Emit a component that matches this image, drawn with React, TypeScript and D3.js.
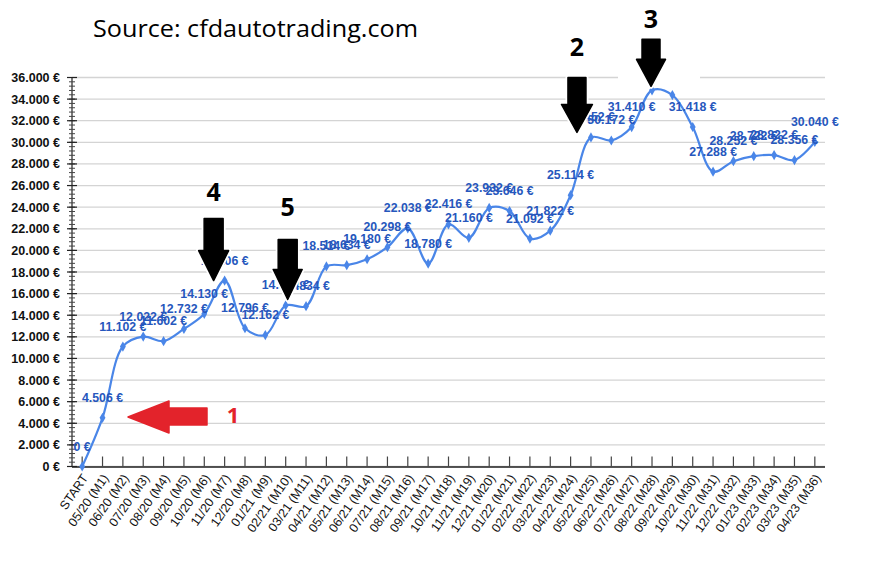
import React from 'react';
import * as d3 from 'd3';

const categories = [
  'START', '05/20 (M1)', '06/20 (M2)', '07/20 (M3)', '08/20 (M4)', '09/20 (M5)', '10/20 (M6)',
  '11/20 (M7)', '12/20 (M8)', '01/21 (M9)', '02/21 (M10)', '03/21 (M11)', '04/21 (M12)',
  '05/21 (M13)', '06/21 (M14)', '07/21 (M15)', '08/21 (M16)', '09/21 (M17)', '10/21 (M18)',
  '11/21 (M19)', '12/21 (M20)', '01/22 (M21)', '02/22 (M22)', '03/22 (M23)', '04/22 (M24)',
  '05/22 (M25)', '06/22 (M26)', '07/22 (M27)', '08/22 (M28)', '09/22 (M29)', '10/22 (M30)',
  '11/22 (M31)', '12/22 (M32)', '01/23 (M33)', '02/23 (M34)', '03/23 (M35)', '04/23 (M36)',
];

const values = [
  0, 4506, 11102, 12022, 11602, 12732, 14130, 17206, 12796, 12162, 14904, 14834, 18514,
  18634, 19180, 20298, 22038, 18780, 22416, 21160, 23932, 23646, 21092, 21822, 25114,
  30452, 30172, 31410, 34812, 34372, 31418, 27288, 28252, 28722, 28822, 28356, 30040,
];

const yTicks = [0, 2000, 4000, 6000, 8000, 10000, 12000, 14000, 16000, 18000, 20000, 22000,
  24000, 26000, 28000, 30000, 32000, 34000, 36000];

const title = 'Source: cfdautotrading.com';

const downArrows = [
  { label: '4', idx: 7 },
  { label: '5', idx: 10 },
  { label: '2', idx: 25 },
  { label: '3', idx: 28 },
];

const W = 870;
const H = 581;

const fmt = (v: number) => d3.format(',')(v).replace(/,/g, '.') + ' €';

export default function App() {
  const x = d3.scalePoint<string>().domain(categories).range([72, 825]).padding(0.5);
  const y = d3.scaleLinear().domain([0, 36000]).range([466.5, 77.5]);
  const px = (i: number) => x(categories[i]) as number;

  const line = d3
    .line<number>()
    .x((_, i) => px(i))
    .y((d) => y(d))
    .curve(d3.curveCatmullRom.alpha(0.5));

  const minorTicks = d3.range(0, 36001, 400);
  const axisFont = '"Liberation Sans", Arial, sans-serif';

  const arrowGeom: Record<string, { tx: number; ty: number; shaft: number; head: number; sw: number; hw: number; ly: number; bg?: [number, number, number, number] }> = {
    '4': { tx: -11, ty: 0, shaft: 32, head: 30, sw: 19, hw: 30, ly: 201 },
    '5': { tx: 2, ty: -6, shaft: 30, head: 30, sw: 19, hw: 29, ly: 216 },
    '2': { tx: -14, ty: -5, shaft: 27, head: 28, sw: 18, hw: 31, ly: 56 },
    '3': { tx: -1, ty: -4, shaft: 20, head: 27, sw: 18, hw: 29, ly: 28, bg: [618, 30, 82, 57] },
  };

  return (
    <svg
      width={W}
      height={H}
      style={{ position: 'absolute', left: 0, top: 0, background: '#fff' }}
      xmlns="http://www.w3.org/2000/svg"
    >
      <rect x={0} y={0} width={W} height={H} fill="#fff" />
      <text
        x={93}
        y={37}
        fontFamily='"Open Sans", sans-serif'
        fontSize={24}
        textLength={325}
        lengthAdjust="spacingAndGlyphs"
        fill="#000"
      >
        {title}
      </text>

      {yTicks.map((t) => (
        <line key={'g' + t} x1={72} x2={825} y1={y(t)} y2={y(t)} stroke="#d4d4d4" strokeWidth={1.3} />
      ))}

      <line x1={72} x2={72} y1={y(36000)} y2={y(0)} stroke="#222" strokeWidth={1.2} />
      {minorTicks.map((t) => (
        <line key={'m' + t} x1={69} x2={75} y1={y(t)} y2={y(t)} stroke="#444" strokeWidth={1} />
      ))}
      {yTicks.map((t) => (
        <line key={'M' + t} x1={67} x2={77} y1={y(t)} y2={y(t)} stroke="#222" strokeWidth={1.2} />
      ))}
      {yTicks.map((t) => (
        <text
          key={'yl' + t}
          x={60}
          y={y(t)}
          dy="0.36em"
          textAnchor="end"
          fontFamily={axisFont}
          fontWeight="bold"
          fontSize={12.5}
          fill="#111"
        >
          {fmt(t)}
        </text>
      ))}

      <line x1={72} x2={825} y1={y(0) + 0.5} y2={y(0) + 0.5} stroke="#222" strokeWidth={1.3} />
      {categories.map((c, i) => (
        <line key={'xt' + i} x1={px(i)} x2={px(i)} y1={y(0)} y2={y(0) - 10} stroke="#444" strokeWidth={1.2} />
      ))}
      {categories.map((c, i) => (
        <text
          key={'xl' + i}
          transform={`translate(${px(i) + 3},${y(0) + 9}) rotate(-55)`}
          textAnchor="end"
          dy="0.35em"
          fontFamily={axisFont}
          fontSize={12.5}
          fill="#111"
        >
          {c}
        </text>
      ))}

      <path d={line(values) || ''} fill="none" stroke="#4a86e8" strokeWidth={2.2} />
      {values.map((v, i) => (
        <path
          key={'pt' + i}
          d={d3.symbol(d3.symbolDiamond, 30)() || ''}
          transform={`translate(${px(i)},${y(v)})`}
          fill="#4a86e8"
        />
      ))}
      {values.map((v, i) => (
        <text
          key={'dl' + i}
          x={px(i)}
          y={y(v) - 16}
          textAnchor="middle"
          fontFamily={axisFont}
          fontWeight="bold"
          fontSize={12.3}
          fill="#2657bd"
        >
          {fmt(v)}
        </text>
      ))}

      {downArrows.map((a) => {
        const g = arrowGeom[a.label];
        const tipX = px(a.idx) + g.tx;
        const tipY = y(values[a.idx]) + g.ty;
        const hy = tipY - g.head;
        const sy = hy - g.shaft;
        const pts = [
          [tipX - g.sw / 2, sy],
          [tipX + g.sw / 2, sy],
          [tipX + g.sw / 2, hy],
          [tipX + g.hw / 2, hy],
          [tipX, tipY],
          [tipX - g.hw / 2, hy],
          [tipX - g.sw / 2, hy],
        ]
          .map((p) => p.join(','))
          .join(' ');
        return (
          <g key={'arr' + a.label}>
            {g.bg && <rect x={g.bg[0]} y={g.bg[1]} width={g.bg[2]} height={g.bg[3]} fill="#fff" />}
            <polygon points={pts} fill="#fff" stroke="#fff" strokeWidth={5} strokeLinejoin="round" />
            <polygon points={pts} fill="#000" stroke="#000" strokeWidth={1.5} strokeLinejoin="round" />
            <text
              x={tipX}
              y={g.ly}
              textAnchor="middle"
              fontFamily='"Open Sans", sans-serif'
              fontWeight="bold"
              fontSize={25}
              fill="#000"
            >
              {a.label}
            </text>
          </g>
        );
      })}

      <polygon
        points="128,417 169,401 169,408 207,408 207,425 169,425 169,433"
        fill="#e3232b"
        stroke="#e3232b"
        strokeWidth={1.5}
        strokeLinejoin="round"
      />
      <text
        x={233}
        y={423}
        textAnchor="middle"
        fontFamily='"Open Sans", sans-serif'
        fontWeight="bold"
        fontSize={22}
        fill="#e3232b"
      >
        1
      </text>
    </svg>
  );
}
